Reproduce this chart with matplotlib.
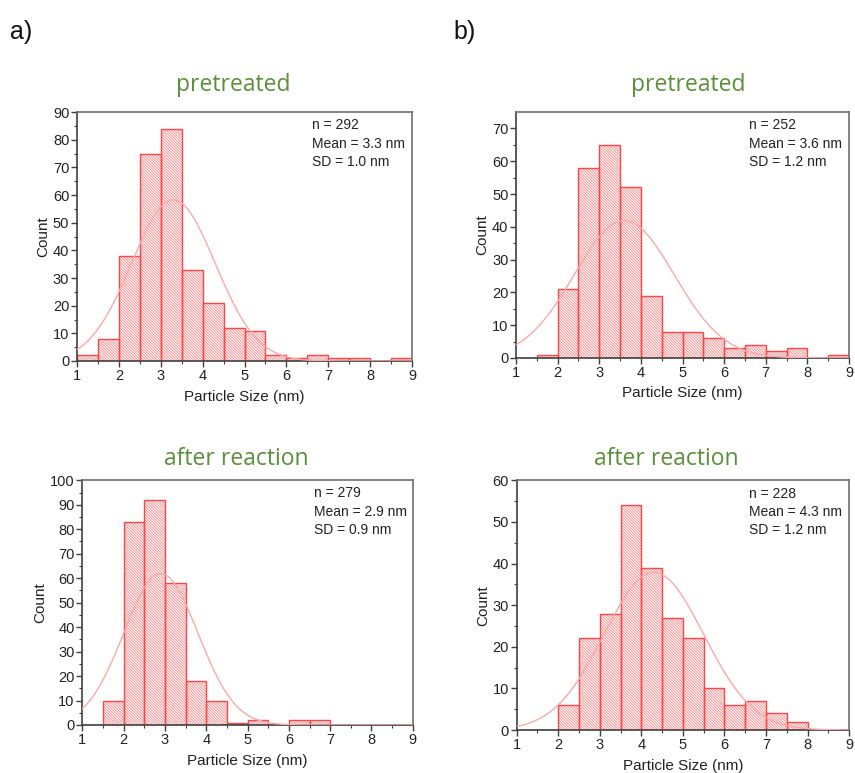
import numpy as np
import matplotlib
matplotlib.use("Agg")
import matplotlib.pyplot as plt

# bin edges: 1.0 .. 9.0 nm in 0.5 nm steps
edges = np.arange(1.0, 9.01, 0.5)

# counts per bin
a_pre_counts = [2, 8, 38, 75, 84, 33, 21, 12, 11, 2, 1, 2, 1, 1, 0, 1]
a_post_counts = [0, 10, 83, 92, 58, 18, 10, 1, 2, 0, 2, 2, 0, 0, 0, 0]
b_pre_counts = [0, 1, 21, 58, 65, 52, 19, 8, 8, 6, 3, 4, 2, 3, 0, 1]
b_post_counts = [0, 0, 6, 22, 28, 54, 39, 27, 22, 10, 6, 7, 4, 2, 0, 0]

# summary stats (n, mean, sd)
a_pre_stats = (292, 3.3, 1.0)
a_post_stats = (279, 2.9, 0.9)
b_pre_stats = (252, 3.6, 1.2)
b_post_stats = (228, 4.3, 1.2)

ylims = {"a_pre": (90, 10), "b_pre": (75, 10), "a_post": (100, 10), "b_post": (60, 10)}

plt.rcParams['font.family'] = ['Liberation Sans', 'DejaVu Sans']
plt.rcParams['hatch.linewidth'] = 0.45

RED = '#ff4545'
FIT = '#ffa8a8'
GREEN = '#5b8f3a'
FRAME = '#404040'


def draw_hist(ax, counts, stats, ymax, ystep):
    n, mean, sd = stats
    widths = np.diff(edges)
    # hatch layer (lighter) then outline
    ax.bar(edges[:-1], counts, width=widths, align='edge', facecolor='#fff5f5',
           edgecolor='#ff7070', linewidth=0, hatch='\\' * 12, zorder=2)
    ax.bar(edges[:-1], counts, width=widths, align='edge', facecolor='none',
           edgecolor=RED, linewidth=1.0, zorder=2.5)
    # normal fit scaled to counts
    xs = np.linspace(1, 9, 400)
    ys = n * 0.5 / (sd * np.sqrt(2 * np.pi)) * np.exp(-0.5 * ((xs - mean) / sd) ** 2)
    ax.plot(xs, ys, color=FIT, linewidth=1.0, zorder=3)

    ax.set_xlim(1, 9)
    ax.set_ylim(0, ymax)
    ax.set_xticks(np.arange(1, 10, 1))
    ax.set_xticks(np.arange(1.5, 9, 1), minor=True)
    ax.set_yticks(np.arange(0, ymax + 0.1, ystep))
    ax.set_yticks(np.arange(ystep / 2, ymax, ystep), minor=True)
    ax.tick_params(which='major', direction='out', length=4, width=1, labelsize=10.5,
                   colors=FRAME, labelcolor='#222222', pad=1.5)
    ax.tick_params(which='minor', direction='out', length=2, width=0.8, colors=FRAME)
    for s in ax.spines.values():
        s.set_color('#707070')
        s.set_linewidth(1.2)
    ax.spines['bottom'].set_color(FRAME)
    ax.spines['left'].set_color(FRAME)
    ax.set_xlabel('Particle Size (nm)', fontsize=11, color='#222222', labelpad=5)
    ax.set_ylabel('Count', fontsize=11, color='#222222', labelpad=2)
    ax.text(0.70, 0.975, f"n = {n}\nMean = {mean:.1f} nm\nSD = {sd:.1f} nm",
            transform=ax.transAxes, ha='left', va='top', fontsize=10,
            color='#222222', linespacing=1.4)


fig = plt.figure(figsize=(8.55, 7.73), dpi=100)

ax1 = fig.add_axes([0.090, 0.533, 0.392, 0.322])
ax2 = fig.add_axes([0.6035, 0.537, 0.3895, 0.318])
ax3 = fig.add_axes([0.0963, 0.0621, 0.3865, 0.3166])
ax4 = fig.add_axes([0.6043, 0.0556, 0.3889, 0.323])

draw_hist(ax1, a_pre_counts, a_pre_stats, *ylims["a_pre"])
draw_hist(ax2, b_pre_counts, b_pre_stats, *ylims["b_pre"])
draw_hist(ax3, a_post_counts, a_post_stats, *ylims["a_post"])
draw_hist(ax4, b_post_counts, b_post_stats, *ylims["b_post"])

title_kw = dict(ha='center', va='center', fontsize=16.5, color=GREEN, family='Open Sans')
fig.text(233 / 855, 1 - 85 / 773, 'pretreated', **title_kw)
fig.text(688 / 855, 1 - 85 / 773, 'pretreated', **title_kw)
fig.text(236 / 855, 1 - 459 / 773, 'after reaction', **title_kw)
fig.text(666 / 855, 1 - 459 / 773, 'after reaction', **title_kw)

fig.text(10 / 855, 1 - 32 / 773, 'a)', fontsize=18, ha='left', va='center', color='#111111')
fig.text(453 / 855, 1 - 32 / 773, 'b)', fontsize=18, ha='left', va='center', color='#111111')

fig.savefig('out.png', dpi=100)
